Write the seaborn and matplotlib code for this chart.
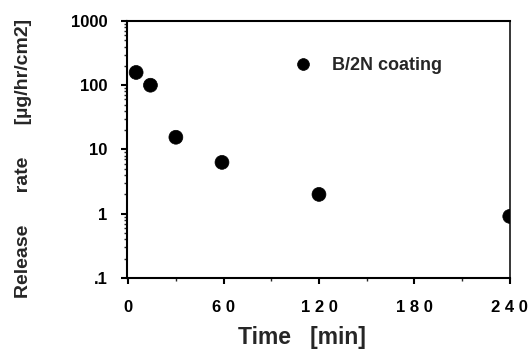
import numpy as np
import pandas as pd
import matplotlib
matplotlib.use('Agg')
import matplotlib.pyplot as plt
import seaborn as sns
from matplotlib.ticker import FixedLocator, NullFormatter

# data
time_min = [5, 14, 30, 59, 120, 240]
rate = [158, 100, 15.5, 6.3, 2.0, 0.91]
rate_err = [15, 10, 2.5, 1.0, 0.35, 0.15]
series = 'B/2N coating'

x_ticks = [0, 60, 120, 180, 240]
x_tick_labels = ['0', '6 0', '1 2 0', '1 8 0', '2 4 0']
y_ticks = [0.1, 1, 10, 100, 1000]
y_tick_labels = ['.1', '1', '10', '100', '1000']

df = pd.DataFrame({'time': time_min, 'rate': rate, 'err': rate_err, 'series': series})

sns.set_style('white')
plt.rcParams['font.family'] = ['Liberation Sans', 'DejaVu Sans']
plt.rcParams['font.weight'] = 'bold'

fig = plt.figure(figsize=(5.31, 3.49), dpi=100)
ax = fig.add_axes([0.239, 0.2034, 0.721, 0.7366])

ax.errorbar(df['time'], df['rate'], yerr=df['err'], fmt='none', ecolor='black',
            elinewidth=1.5, capsize=0, zorder=2)
sns.scatterplot(data=df, x='time', y='rate', hue='series', palette=['black'],
                s=100, edgecolor='black', linewidth=0.5, ax=ax, zorder=3)

ax.set_yscale('log')
ax.set_xlim(-0.8, 240)
ax.set_ylim(0.1, 1000)

ax.set_xticks(x_ticks)
ax.set_xticklabels(x_tick_labels, fontsize=12, fontweight='bold')
ax.set_xticks([30, 90, 150, 210], minor=True)
ax.set_yticks(y_ticks)
ax.set_yticklabels(y_tick_labels, fontsize=12, fontweight='bold')
minor_y = [m * 10.0 ** e for e in range(-1, 3) for m in range(2, 10)]
ax.yaxis.set_minor_locator(FixedLocator(minor_y))
ax.yaxis.set_minor_formatter(NullFormatter())

ax.tick_params(axis='both', which='major', direction='out', length=4, width=1.5,
               colors='black', bottom=True, left=True, top=False, right=False)
ax.tick_params(axis='both', which='minor', direction='out', length=2.5, width=1,
               bottom=True, left=True, top=False, right=False)
ax.tick_params(axis='y', which='major', pad=10)
ax.tick_params(axis='x', which='major', pad=12)

for side in ['left', 'bottom', 'top']:
    ax.spines[side].set_linewidth(1.5)
    ax.spines[side].set_color('black')
ax.spines['right'].set_linewidth(1.1)
ax.spines['right'].set_color('black')

ax.set_xlabel('Time   [min]', fontsize=16.5, fontweight='bold')
ax.xaxis.set_label_coords(0.457, -0.23, transform=ax.transAxes)
ax.xaxis.label.set_verticalalignment('center')
ax.set_ylabel('Release      rate      [\u00b5g/hr/cm2]', fontsize=14, fontweight='bold')
ax.yaxis.set_label_coords(-0.27, 0.465, transform=ax.transAxes)
ax.yaxis.label.set_verticalalignment('center')

leg = ax.legend(loc='center left', bbox_to_anchor=(0.37, 0.825), frameon=False,
                handletextpad=0.6, markerscale=0.85, prop={'size': 13, 'weight': 'bold'})
leg.set_title(None)

fig.savefig('out.png', dpi=100)
